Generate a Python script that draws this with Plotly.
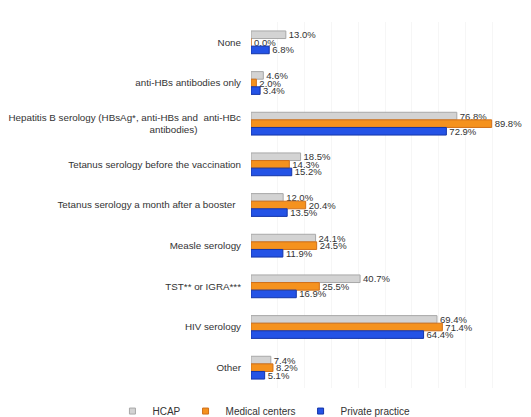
import plotly.graph_objects as go

categories = [
    "None",
    "anti-HBs antibodies only",
    "Hepatitis B serology (HBsAg*, anti-HBs and  anti-HBc<br>antibodies)                ",
    "Tetanus serology before the vaccination",
    "Tetanus serology a month after a booster  ",
    "Measle serology",
    "TST** or IGRA***",
    "HIV serology",
    "Other",
]
hcap = [13.0, 4.6, 76.8, 18.5, 12.0, 24.1, 40.7, 69.4, 7.4]
medical = [0.0, 2.0, 89.8, 14.3, 20.4, 24.5, 25.5, 71.4, 8.2]
private = [6.8, 3.4, 72.9, 15.2, 13.5, 11.9, 16.9, 64.4, 5.1]

series = [
    ("HCAP", hcap, "#d3d3d3", "#a8a8a8"),
    ("Medical centers", medical, "#f5921e", "#d0701a"),
    ("Private practice", private, "#2453e6", "#1435a8"),
]

fig = go.Figure()
for name, vals, color, line in series:
    fig.add_trace(go.Bar(
        y=categories, x=vals, name=name, orientation="h",
        marker=dict(color=color, line=dict(color=line, width=1)),
        text=[f"{v:.1f}%" for v in vals], textposition="outside",
        constraintext="none",
        textfont=dict(size=9.5, color="#333333"), cliponaxis=False,
        showlegend=False,
    ))
# legend entries with small square symbols
for name, vals, color, line in series:
    fig.add_trace(go.Scatter(
        x=[None], y=[None], mode="markers", name=name,
        marker=dict(symbol="square", size=6, color=color, line=dict(color=line, width=1)),
    ))

fig.update_layout(
    width=531, height=432,
    margin=dict(l=243, r=20, t=14, b=52),
    barmode="group", bargap=0.44, bargroupgap=0,
    plot_bgcolor="white", paper_bgcolor="white",
    font=dict(family="Liberation Sans", size=9.8, color="#333333"),
    showlegend=True,
    legend=dict(orientation="h", x=-0.517, xanchor="left", y=-0.063, yanchor="middle",
                font=dict(size=10, color="#333333"), itemwidth=30,
                tracegroupgap=0, borderwidth=0),
    xaxis=dict(range=[0, 100], showticklabels=False, showgrid=True,
               gridcolor="#f6f6f6", dtick=10, zeroline=False, showline=False,
               automargin=False),
    yaxis=dict(autorange="reversed", showline=False, ticks="", ticklen=0,
               ticklabelstandoff=9, automargin=False,
               tickfont=dict(size=9.8, color="#333333")),
)
fig.write_html("out.html")
